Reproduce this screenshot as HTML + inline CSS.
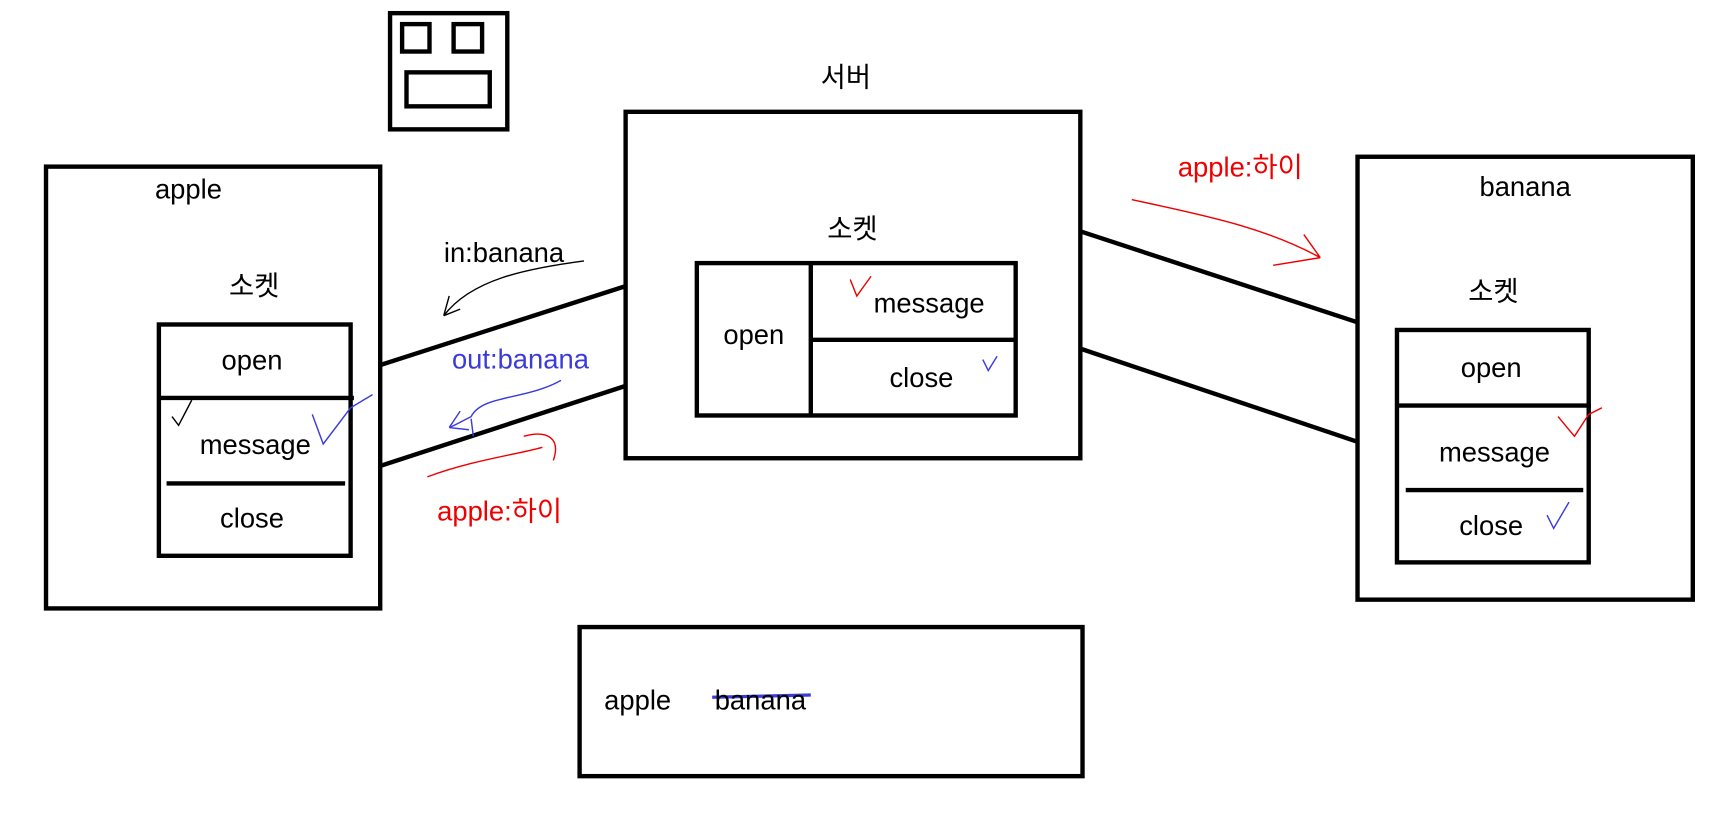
<!DOCTYPE html>
<html><head><meta charset="utf-8"><style>
html,body{margin:0;padding:0;background:#fff;}
svg{display:block;}
text{font-family:"Liberation Sans","Noto Sans CJK KR",sans-serif;font-size:25px;text-anchor:middle;}
</style></head><body>
<svg width="1718" height="820" viewBox="0 0 1568 748" preserveAspectRatio="none" xmlns="http://www.w3.org/2000/svg">
<g fill="none" stroke="#000" stroke-width="4">
<rect x="356" y="12" width="107" height="106"/>
<rect x="367" y="22" width="25" height="25"/>
<rect x="414" y="22" width="26" height="25"/>
<rect x="371" y="66" width="76" height="31"/>
<rect x="42" y="152" width="305" height="403"/>
<rect x="145" y="296" width="175" height="211"/>
<line x1="145" y1="363" x2="323" y2="363"/>
<line x1="152" y1="441" x2="315" y2="441"/>
<rect x="571" y="102" width="415" height="316"/>
<rect x="636" y="240" width="291" height="139"/>
<line x1="740" y1="240" x2="740" y2="379"/>
<line x1="740" y1="310" x2="927" y2="310"/>
<rect x="1239" y="143" width="306" height="404"/>
<rect x="1275" y="301" width="175" height="212"/>
<line x1="1275" y1="370" x2="1452" y2="370"/>
<line x1="1283" y1="447" x2="1445" y2="447"/>
<line x1="347" y1="333" x2="571" y2="261"/>
<line x1="347" y1="425" x2="571" y2="352"/>
<line x1="986" y1="211" x2="1239" y2="294"/>
<line x1="986" y1="318" x2="1239" y2="403"/>
<rect x="529" y="572" width="459" height="136"/>
</g>
<g fill="none" stroke-width="1.3">
<path d="M533 238 C480 245 430 255 405 288 M405 288 L410 270 M405 288 L420 282" stroke="#000"/>
<path d="M512 347 C480 365 440 360 430 380 C420 385 415 388 410 390 M410 390 L420 375 M410 390 L428 392 M430 382 L432 398" stroke="#3b3bdb"/>
<path d="M390 435 C430 420 470 415 495 408 M478 398 C500 392 512 400 505 420" stroke="#e00"/>
<path d="M1033 182 C1090 195 1150 205 1205 235 M1205 235 L1190 214 M1205 235 L1162 242" stroke="#e00"/>
<path d="M157 380 L163 388 L175 365" stroke="#000"/>
<path d="M285 378 L295 405 L320 372 L340 360" stroke="#3b3bdb"/>
<path d="M776 255 L782 270 L795 252" stroke="#e00"/>
<path d="M897 328 L902 338 L910 325" stroke="#3b3bdb"/>
<path d="M1422 380 L1437 398 L1450 378 L1462 372" stroke="#e00"/>
<path d="M1412 470 L1418 482 L1432 458" stroke="#3b3bdb"/>
</g>
<line x1="650" y1="636" x2="740" y2="634" stroke="#3b3bdb" stroke-width="3"/>
<text x="172" y="181">apple</text>
<text x="232" y="269">소켓</text>
<text x="230" y="337">open</text>
<text x="233" y="414">message</text>
<text x="230" y="481">close</text>
<text x="772" y="79">서버</text>
<text x="778" y="217">소켓</text>
<text x="688" y="314">open</text>
<text x="848" y="285">message</text>
<text x="841" y="353">close</text>
<text x="1392" y="179">banana</text>
<text x="1363" y="274">소켓</text>
<text x="1361" y="344">open</text>
<text x="1364" y="421">message</text>
<text x="1361" y="488">close</text>
<text x="582" y="647">apple</text>
<text x="694" y="647">banana</text>
<text x="460" y="239">in:banana</text>
<text x="475" y="336" fill="#3b3bdb">out:banana</text>
<text x="456" y="475" fill="#e00">apple:하이</text>
<text x="1132" y="161" fill="#e00">apple:하이</text>
</svg>
</body></html>
